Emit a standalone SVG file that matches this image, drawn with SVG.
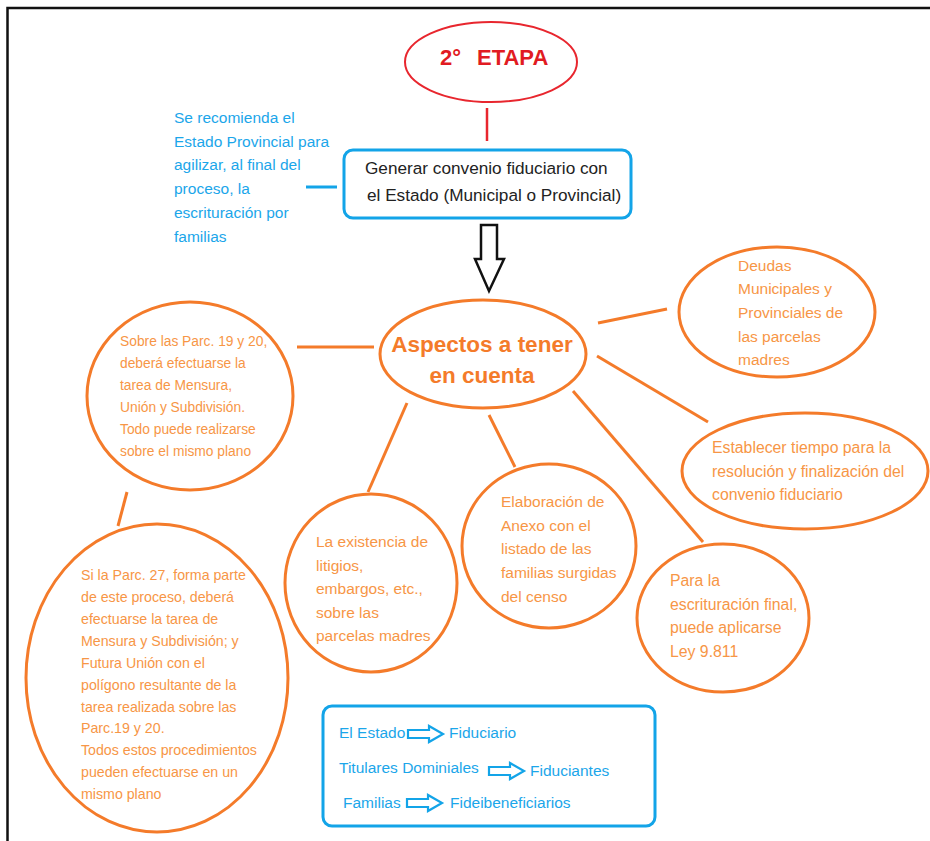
<svg xmlns="http://www.w3.org/2000/svg" width="930" height="841" viewBox="0 0 930 841">
<style>
text{font-family:"Liberation Sans",Arial,sans-serif}
.o{fill:none;stroke:#F47B2A;stroke-width:3}
.ot{fill:#F79646;font-size:15.5px}
.bt{fill:#1BA6EA;font-size:15.5px}
.blu{fill:none;stroke:#13A4E8;stroke-width:3}
.ln{stroke:#F47B2A;stroke-width:3;fill:none}
.la{fill:none;stroke:#13A4E8;stroke-width:2.2;stroke-linejoin:miter}
</style>
<defs>
<path id="legarrow" d="M0,-4 H21 V-8 L35,0 L21,8 V4 H0 Z"/>
</defs>
<rect x="0" y="0" width="930" height="841" fill="#fff"/>
<path d="M7.5,841 V8 H930" fill="none" stroke="#111" stroke-width="2.5"/>

<g id="connectors">
<line x1="487" y1="108" x2="487" y2="141" stroke="#E8262E" stroke-width="2.5"/>
<line x1="306" y1="187" x2="337" y2="187" stroke="#13A4E8" stroke-width="3"/>
<polygon points="481,225 497,225 497,259 504,259 489,291 475,259 481,259" fill="#fff" stroke="#111" stroke-width="2.5" stroke-linejoin="miter"/>
<line class="ln" x1="297" y1="347" x2="374" y2="347"/>
<line class="ln" x1="598" y1="323" x2="667" y2="309"/>
<line class="ln" x1="597" y1="356" x2="708" y2="422"/>
<line class="ln" x1="573" y1="391" x2="703" y2="542"/>
<line class="ln" x1="489" y1="415" x2="515" y2="467"/>
<line class="ln" x1="407" y1="403" x2="368" y2="492"/>
<line class="ln" x1="127" y1="492" x2="118" y2="526"/>
</g>

<g id="etapa">
<ellipse cx="491" cy="62" rx="86" ry="40" fill="none" stroke="#E8262E" stroke-width="2"/>
<text x="440" y="65" font-size="22" font-weight="bold" fill="#E11B22">2°</text>
<text x="477" y="65" font-size="22" font-weight="bold" fill="#E11B22">ETAPA</text>
</g>

<g id="nota">
<text class="bt"><tspan x="174" y="123">Se recomienda el</tspan><tspan x="174" y="147">Estado Provincial para</tspan><tspan x="174" y="170">agilizar, al final del</tspan><tspan x="174" y="194">proceso, la</tspan><tspan x="174" y="218">escrituración por</tspan><tspan x="174" y="242">familias</tspan></text>
</g>

<g id="convenio">
<rect x="344" y="150" width="287" height="68" rx="9" class="blu"/>
<text font-size="17.2" fill="#222"><tspan x="365" y="174">Generar convenio fiduciario con</tspan><tspan x="367" y="201">el Estado (Municipal o Provincial)</tspan></text>
</g>

<g id="aspectos">
<ellipse cx="483" cy="354" rx="103" ry="54" class="o"/>
<text x="482" y="352" text-anchor="middle" font-size="22.5" font-weight="bold" fill="#F47B2A">Aspectos a tener</text>
<text x="482" y="383" text-anchor="middle" font-size="22.5" font-weight="bold" fill="#F47B2A">en cuenta</text>
</g>

<g id="parc1920">
<ellipse cx="190" cy="396" rx="103" ry="94" class="o"/>
<text class="ot" style="font-size:13.8px"><tspan x="120" y="346">Sobre las Parc. 19 y 20,</tspan><tspan x="120" y="368">deberá efectuarse la</tspan><tspan x="120" y="390">tarea de Mensura,</tspan><tspan x="120" y="412">Unión y Subdivisión.</tspan><tspan x="120" y="434">Todo puede realizarse</tspan><tspan x="120" y="456">sobre el mismo plano</tspan></text>
</g>

<g id="parc27">
<ellipse cx="157" cy="678" rx="131" ry="154" class="o"/>
<text class="ot" style="font-size:14.2px"><tspan x="81" y="580">Si la Parc. 27, forma parte</tspan><tspan x="81" y="602">de este proceso, deberá</tspan><tspan x="81" y="624">efectuarse la tarea de</tspan><tspan x="81" y="646">Mensura y Subdivisión; y</tspan><tspan x="81" y="668">Futura Unión con el</tspan><tspan x="81" y="690">polígono resultante de la</tspan><tspan x="81" y="712">tarea realizada sobre las</tspan><tspan x="81" y="733">Parc.19 y 20.</tspan><tspan x="81" y="755">Todos estos procedimientos</tspan><tspan x="81" y="777">pueden efectuarse en un</tspan><tspan x="81" y="799">mismo plano</tspan></text>
</g>

<g id="litigios">
<ellipse cx="371" cy="583" rx="86" ry="89" class="o"/>
<text class="ot"><tspan x="316" y="547">La existencia de</tspan><tspan x="316" y="571">litigios,</tspan><tspan x="316" y="594">embargos, etc.,</tspan><tspan x="316" y="618">sobre las</tspan><tspan x="316" y="641">parcelas madres</tspan></text>
</g>

<g id="anexo">
<ellipse cx="549" cy="546" rx="87" ry="82" class="o"/>
<text class="ot"><tspan x="501" y="507">Elaboración de</tspan><tspan x="501" y="531">Anexo con el</tspan><tspan x="501" y="554">listado de las</tspan><tspan x="501" y="578">familias surgidas</tspan><tspan x="501" y="602">del censo</tspan></text>
</g>

<g id="deudas">
<ellipse cx="777" cy="312" rx="98" ry="65" class="o"/>
<text class="ot"><tspan x="738" y="271">Deudas</tspan><tspan x="738" y="294">Municipales y</tspan><tspan x="738" y="318">Provinciales de</tspan><tspan x="738" y="342">las parcelas</tspan><tspan x="738" y="365">madres</tspan></text>
</g>

<g id="tiempo">
<ellipse cx="805" cy="471" rx="123" ry="58" class="o"/>
<text class="ot" style="font-size:15.8px"><tspan x="712" y="453">Establecer tiempo para la</tspan><tspan x="712" y="477">resolución y finalización del</tspan><tspan x="712" y="500">convenio fiduciario</tspan></text>
</g>

<g id="ley">
<ellipse cx="723" cy="618" rx="86" ry="74" class="o"/>
<text class="ot" style="font-size:15.8px"><tspan x="670" y="586">Para la</tspan><tspan x="670" y="610">escrituración final,</tspan><tspan x="670" y="633">puede aplicarse</tspan><tspan x="670" y="657">Ley 9.811</tspan></text>
</g>

<g id="leyenda">
<rect x="323" y="706" width="332" height="120" rx="9" class="blu"/>
<text class="bt" x="339" y="738">El Estado</text>
<use href="#legarrow" x="408" y="734" class="la"/>
<text class="bt" x="449" y="738">Fiduciario</text>
<text class="bt" x="339" y="773">Titulares Dominiales</text>
<use href="#legarrow" x="489" y="771" class="la"/>
<text class="bt" x="530" y="776">Fiduciantes</text>
<text class="bt" x="343" y="808">Familias</text>
<use href="#legarrow" x="407" y="803" class="la"/>
<text class="bt" x="450" y="808">Fideibeneficiarios</text>
</g>
</svg>
